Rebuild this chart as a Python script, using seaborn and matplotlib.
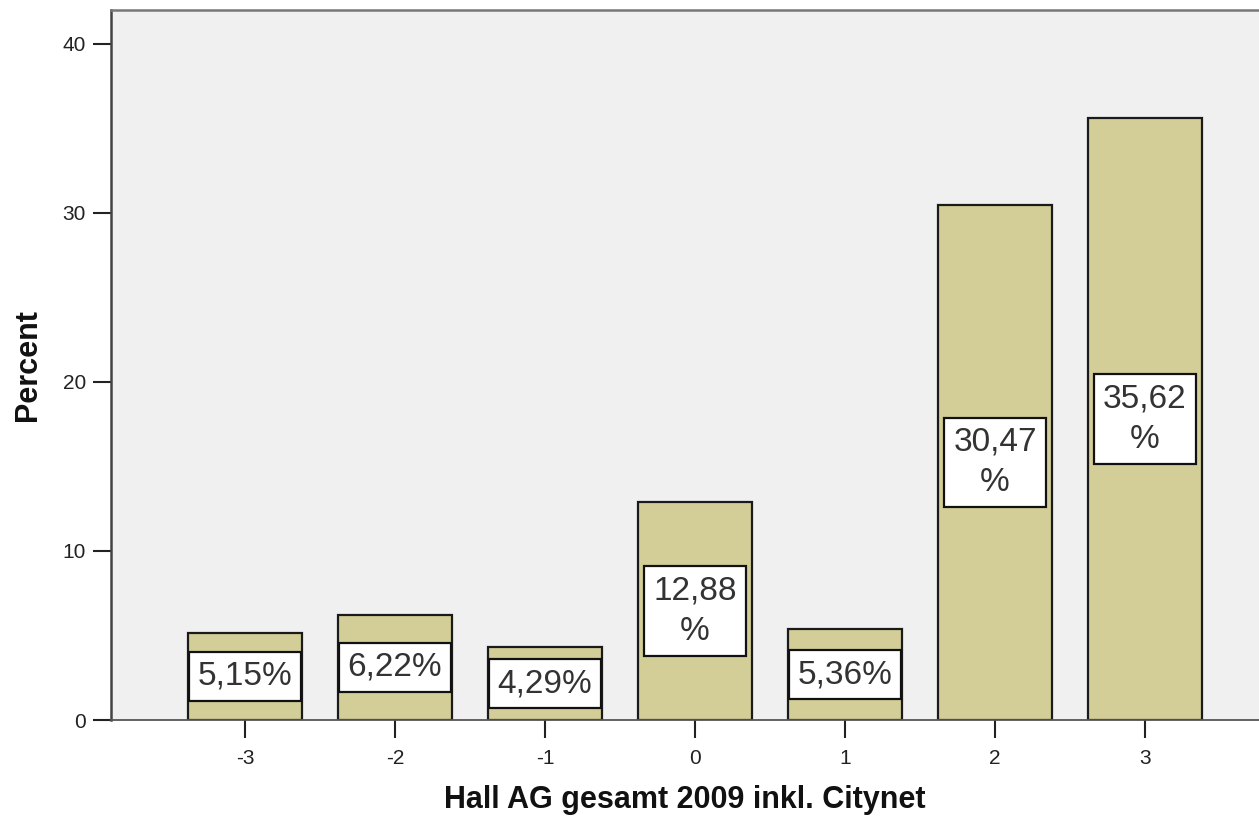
import matplotlib
matplotlib.use("Agg")
import matplotlib.pyplot as plt
import seaborn as sns
import pandas as pd

categories = ["-3", "-2", "-1", "0", "1", "2", "3"]
percents = [5.15, 6.22, 4.29, 12.88, 5.36, 30.47, 35.62]
bar_labels = ["5,15%", "6,22%", "4,29%", "12,88\n%", "5,36%", "30,47\n%", "35,62\n%"]
y_ticks = [0, 10, 20, 30, 40]

sns.set_theme(style="white")
plt.rcParams['font.family'] = ['Liberation Sans', 'DejaVu Sans']

fig = plt.figure(figsize=(12.59, 8.23), dpi=100)
ax = fig.add_axes([111/1259, 103/823, 1148/1259, 710/823])
ax.set_facecolor("#f0f0f0")

df = pd.DataFrame({"cat": categories, "pct": percents})
sns.barplot(data=df, x="cat", y="pct", order=categories, color="#d3ce97",
            saturation=1, edgecolor="#1a1a1a", linewidth=1.6, width=0.76, ax=ax)

for i, (v, lab) in enumerate(zip(percents, bar_labels)):
    ax.text(i, v / 2, lab, ha="center", va="center", fontsize=24, color="#333333",
            linespacing=1.4,
            bbox=dict(boxstyle="square,pad=0.27", facecolor="white",
                      edgecolor="#111111", linewidth=1.6))

ax.set_xlim(-0.893, 6.76)
ax.set_ylim(0, 42)
ax.set_yticks(y_ticks)
ax.set_yticklabels([str(t) for t in y_ticks])

ax.tick_params(axis="both", which="both", direction="out", length=13, width=1.5,
               color="#222222", labelsize=15, labelcolor="#222222",
               left=True, bottom=True)
ax.tick_params(axis="y", pad=5)
ax.tick_params(axis="x", pad=8)

ax.spines["right"].set_visible(False)
ax.spines["top"].set_visible(True)
ax.spines["top"].set_color("#777777")
ax.spines["top"].set_linewidth(1.8)
ax.spines["left"].set_color("#444444")
ax.spines["left"].set_linewidth(1.8)
ax.spines["bottom"].set_color("#555555")
ax.spines["bottom"].set_linewidth(1.3)

ax.set_xlabel("Hall AG gesamt 2009 inkl. Citynet", fontsize=22, fontweight="bold",
              color="#111111", labelpad=12)
ax.set_ylabel("Percent", fontsize=22, fontweight="bold", color="#111111", labelpad=14)

fig.savefig("out.png", dpi=100)
